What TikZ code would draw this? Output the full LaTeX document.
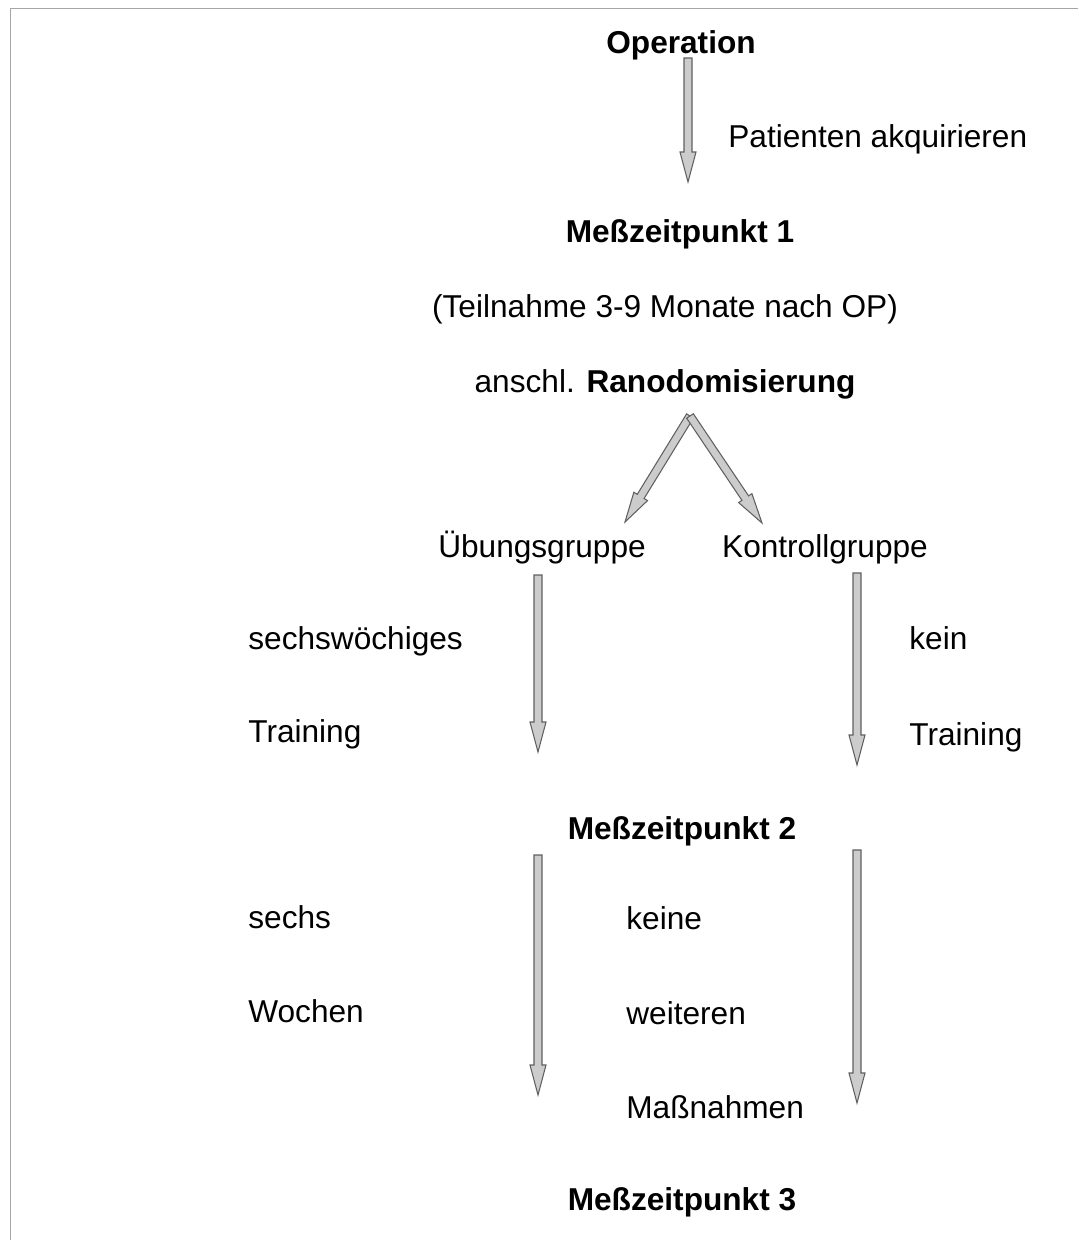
\documentclass[tikz,border=0pt]{standalone}
\usepackage{fontspec}
\setmainfont{Liberation Sans}
\usetikzlibrary{calc}
\newcommand\blkarrow[2]{%
  \coordinate (tmpH) at ($(#2)!0.6cm!(#1)$);
  \path[blockarr]
    ($(#1)!0.08cm!90:(#2)$) -- ($(tmpH)!0.08cm!-90:(#1)$) --
    ($(tmpH)!0.16cm!-90:(#1)$) -- (#2) --
    ($(tmpH)!0.16cm!90:(#1)$) -- ($(tmpH)!0.08cm!90:(#1)$) --
    ($(#1)!0.08cm!-90:(#2)$) -- cycle;}
\begin{document}
\begin{tikzpicture}[x=0.02cm,y=-0.02cm,
  txt/.style={inner sep=0pt,anchor=base,font=\fontsize{18}{22}\selectfont},
  btxt/.style={txt,font=\fontsize{18}{22}\selectfont\bfseries},
  ltxt/.style={txt,anchor=base west},
  blockarr/.style={draw=gray!75!black,fill=gray!40,line width=0.6pt,line join=miter},
  scanline/.style={draw=gray!70,line width=0.5pt}]
\useasboundingbox (0,0) rectangle (1078,1240);
\fill[white] (0,0) rectangle (1078,1240);
\coordinate (tl) at (10,8);
\coordinate (tr) at (1078,8);
\coordinate (bl) at (10,1240);
\draw[scanline] (tr) -- (tl) -- (bl);
% texts (base line positions)
\node[btxt] (op) at (681,54) {Operation};
\node[ltxt] (pa) at (728,148) {Patienten akquirieren};
\node[btxt] (m1) at (680,242) {Meßzeitpunkt 1};
\node[txt] (tn) at (665,317) {(Teilnahme 3-9 Monate nach OP)};
\node[txt] (rd) at (665,392) {anschl. \textbf{Ranodomisierung}};
\node[txt] (ug) at (542,557) {Übungsgruppe};
\node[txt] (kg) at (825,557) {Kontrollgruppe};
\node[ltxt] (sw) at (248,649) {sechswöchiges};
\node[ltxt] (tr1) at (248,742) {Training};
\node[ltxt] (kn) at (909,649) {kein};
\node[ltxt] (tr2) at (909,745) {Training};
\node[btxt] (m2) at (682,839) {Meßzeitpunkt 2};
\node[ltxt] (sx) at (248,928) {sechs};
\node[ltxt] (wo) at (248,1022) {Wochen};
\node[ltxt] (ke) at (626,929) {keine};
\node[ltxt] (we) at (626,1024) {weiteren};
\node[ltxt] (ma) at (626,1118) {Maßnahmen};
\node[btxt] (m3) at (682,1210) {Meßzeitpunkt 3};
% arrow endpoints
\coordinate (a1s) at (688,58);  \coordinate (a1e) at (688,182);
\coordinate (ap)  at (690,416);
\coordinate (a2e) at (625,522);
\coordinate (a3e) at (762,523);
\coordinate (a4s) at (538,575); \coordinate (a4e) at (538,752);
\coordinate (a5s) at (857,573); \coordinate (a5e) at (857,765);
\coordinate (a6s) at (538,855); \coordinate (a6e) at (538,1095);
\coordinate (a7s) at (857,850); \coordinate (a7e) at (857,1103);
\blkarrow{a1s}{a1e}
\blkarrow{ap}{a2e}
\blkarrow{ap}{a3e}
\blkarrow{a4s}{a4e}
\blkarrow{a5s}{a5e}
\blkarrow{a6s}{a6e}
\blkarrow{a7s}{a7e}
\end{tikzpicture}
\end{document}
